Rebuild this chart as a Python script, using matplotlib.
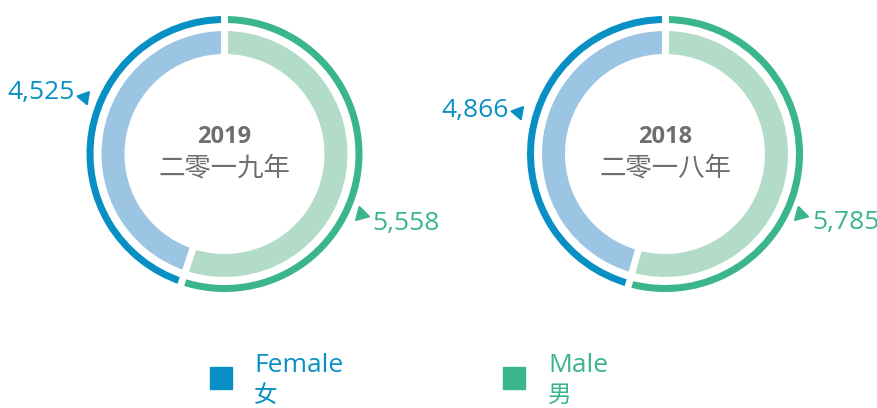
import matplotlib.pyplot as plt
import numpy as np

plt.rcParams['font.family'] = ['Open Sans', 'Noto Sans CJK SC', 'DejaVu Sans']
CJK = ['Noto Sans CJK SC', 'DejaVu Sans']

# data
years = ['2019', '2018']
years_cn = ['二零一九年', '二零一八年']
female = [4525, 4866]
male = [5558, 5785]
legend_en = ['Female', 'Male']
legend_cn = ['女', '男']

dark = ['#0890c4', '#3bb58b']
light = ['#9cc5e3', '#b2dcc8']
grey = '#6e6e6e'

W, H = 878, 408
fig = plt.figure(figsize=(W / 100, H / 100), dpi=100)
ax = fig.add_axes([0, 0, 1, 1])

centers = [(224.5, H - 154), (665, H - 154)]
# label anchor positions (pixels, y from top)
left_lab = [(75, 93), (509, 110)]
right_lab = [(372, 224), (812, 223)]
left_tri = [(84, 97), (518, 112)]
right_tri = [(361, 214), (800, 214)]

for i in range(2):
    cx, cy = centers[i]
    vals = [female[i], male[i]]
    # outer thin ring
    ax.pie(vals, center=(cx, cy), radius=138, startangle=90, counterclock=True,
           colors=dark, wedgeprops=dict(width=7, linewidth=0))
    # inner thick ring
    ax.pie(vals, center=(cx, cy), radius=123, startangle=90, counterclock=True,
           colors=light, wedgeprops=dict(width=23, linewidth=0))
    # white gaps between segments (only across the rings)
    f = female[i] / (female[i] + male[i])
    for ang in [90, 90 + 360 * f]:
        a = np.deg2rad(ang)
        ax.plot([cx + 95 * np.cos(a), cx + 150 * np.cos(a)],
                [cy + 95 * np.sin(a), cy + 150 * np.sin(a)],
                color='white', lw=5, solid_capstyle='butt', zorder=5)

    ax.text(cx, H - 137, years[i], ha='center', va='center', fontsize=17,
            fontweight='bold', color=grey, family=['Open Sans', 'DejaVu Sans'])
    ax.text(cx, H - 168, years_cn[i], ha='center', va='center', fontsize=19,
            color=grey, family=CJK)

    ax.text(left_lab[i][0], H - left_lab[i][1], f'{female[i]:,}', ha='right',
            va='center', fontsize=19, color=dark[0])
    ax.plot(left_tri[i][0], H - left_tri[i][1], marker=(3, 0, 200),
            markersize=11, color=dark[0], zorder=6)
    ax.text(right_lab[i][0], H - right_lab[i][1], f'{male[i]:,}', ha='left',
            va='center', fontsize=19, color=dark[1])
    ax.plot(right_tri[i][0], H - right_tri[i][1], marker=(3, 0, 15),
            markersize=12, color=dark[1], zorder=6)

# legend
leg_sq = [(221, 378), (514, 378)]
leg_tx = [254, 548]
for i in range(2):
    ax.plot(leg_sq[i][0], H - leg_sq[i][1], marker='s', markersize=16.5,
            color=dark[i], linestyle='none')
    ax.text(leg_tx[i], H - 366, legend_en[i], ha='left', va='center',
            fontsize=19, color=dark[i])
    ax.text(leg_tx[i], H - 395, legend_cn[i], ha='left', va='center',
            fontsize=17, color=dark[i], family=CJK)

ax.set_xlim(0, W)
ax.set_ylim(0, H)
ax.set_aspect('equal')
ax.axis('off')

fig.savefig('out.png', dpi=100)
